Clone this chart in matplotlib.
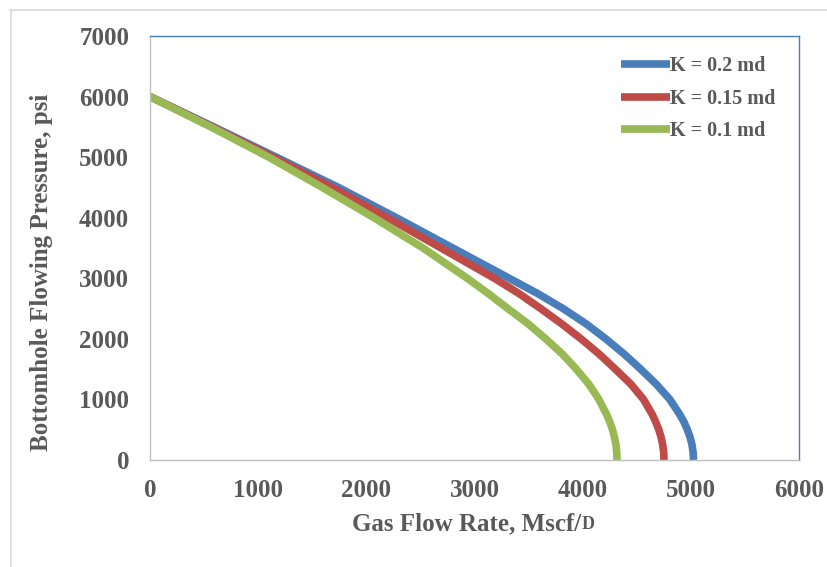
import matplotlib.pyplot as plt
from matplotlib.lines import Line2D

# Bottomhole flowing pressure levels (psi) and gas rates (Mscf/D)
pwf = [6000, 5500, 5000, 4500, 4000, 3500, 3000, 2750, 2500, 2250, 2000, 1750, 1500,
       1250, 1000, 750, 625, 500, 375, 250, 125, 0]
q_k02 = [0, 588, 1167, 1742, 2278, 2799, 3321, 3582, 3819, 4030, 4214, 4383, 4536,
         4681, 4806, 4898, 4937, 4968, 4993, 5011, 5021, 5025]
q_k015 = [0, 575, 1137, 1683, 2197, 2691, 3184, 3410, 3612, 3805, 3985, 4152, 4302,
          4447, 4563, 4644, 4676, 4704, 4725, 4740, 4749, 4752]
q_k01 = [0, 561, 1098, 1593, 2070, 2524, 2933, 3126, 3308, 3495, 3658, 3812, 3941,
         4058, 4150, 4222, 4252, 4276, 4294, 4308, 4315, 4318]
labels = ["K = 0.2 md", "K = 0.15 md", "K = 0.1 md"]
colors = ["#4A7EBB", "#BE4B48", "#98B954"]

plt.rcParams["font.family"] = ["Liberation Serif", "DejaVu Serif"]
text_color = "#595959"

W, H = 828, 567
fig = plt.figure(figsize=(W / 100, H / 100), dpi=100)
ax = fig.add_axes([150 / W, 1 - 460 / H, (799 - 150) / W, (460 - 36) / H])

for q, lab, c in zip([q_k02, q_k015, q_k01], labels, colors):
    ax.plot(q, pwf, color=c, linewidth=5.5, label=lab, solid_capstyle="butt",
            solid_joinstyle="round")

ax.set_xlim(0, 6000)
ax.set_ylim(0, 7000)
ax.set_xticks(range(0, 6001, 1000))
ax.set_yticks(range(0, 7001, 1000))
ax.tick_params(length=0, labelsize=18, labelcolor=text_color)
ax.tick_params(axis="x", pad=14)
ax.tick_params(axis="y", pad=15)
for lbl in ax.get_xticklabels() + ax.get_yticklabels():
    lbl.set_fontweight("bold")

for side in ["left", "bottom"]:
    ax.spines[side].set_color("#BFBFBF")
    ax.spines[side].set_linewidth(1.0)
for side in ["top", "right"]:
    ax.spines[side].set_color("#4A7EBB")
    ax.spines[side].set_linewidth(1.0)

leg = ax.legend(
    loc="upper right",
    bbox_to_anchor=(0.985, 0.986),
    frameon=False,
    fontsize=14.5,
    handlelength=2.4,
    handletextpad=0.0,
    labelspacing=0.63,
    borderaxespad=0.3,
)
for t in leg.get_texts():
    t.set_fontweight("bold")
    t.set_color(text_color)

# axis titles
fig.text(42 / W, 1 - 272 / H, "Bottomhole Flowing Pressure, psi", rotation=90,
         ha="center", va="center", fontsize=18, fontweight="bold", color=text_color)
xt = fig.text(352 / W, 1 - 530 / H, "Gas Flow Rate, Mscf/", ha="left",
              va="baseline", fontsize=18, fontweight="bold", color=text_color)
ax.annotate("D", xy=(1.0, 0.0), xycoords=xt, xytext=(0, 4.3), textcoords="offset points",
            ha="left", va="baseline", fontsize=13, fontweight="bold", color=text_color,
            annotation_clip=False)

# outer chart border (light gray)
fig.add_artist(Line2D([10 / W, 1.0], [1 - 9.5 / H, 1 - 9.5 / H], color="#D9D9D9",
                      linewidth=1.2, transform=fig.transFigure))
fig.add_artist(Line2D([10.5 / W, 10.5 / W], [0, 1 - 9.5 / H], color="#D9D9D9",
                      linewidth=1.2, transform=fig.transFigure))

fig.savefig("out.png", dpi=100)
